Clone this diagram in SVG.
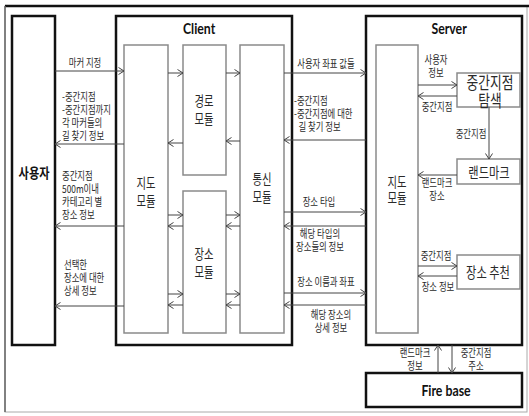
<svg xmlns="http://www.w3.org/2000/svg" width="529" height="416" viewBox="0 0 529 416">
<defs>
<marker id="ah" markerUnits="userSpaceOnUse" markerWidth="8" markerHeight="9" refX="6" refY="4" orient="auto">
<path d="M0.5,0.5 L6,4 L0.5,7.5" fill="none" stroke="#444" stroke-width="1"/>
</marker>
<style>
text{transform-box:fill-box;transform-origin:center}
.t{font-family:"Noto Sans CJK KR","Noto Sans",sans-serif;font-size:11px;fill:#2a2a2a;dominant-baseline:central;transform:scaleX(.76);transform-origin:left center}
.c{text-anchor:middle;transform-origin:center}
.m{font-family:"Noto Sans CJK KR","Noto Sans",sans-serif;font-size:14px;fill:#2a2a2a;dominant-baseline:central;text-anchor:middle;transform:scaleX(.74)}
.k{font-size:17px;transform:scaleX(.75)}
.b{font-family:Lato,"Noto Sans CJK KR",sans-serif;font-weight:bold;font-size:15px;fill:#111;dominant-baseline:central;text-anchor:middle;transform:scaleX(.82)}
.outer{fill:#fff;stroke:#111;stroke-width:2.5}
.inner{fill:#fff;stroke:#8a8a8a;stroke-width:1.5}
.ln{fill:none;stroke:#444;stroke-width:1;marker-end:url(#ah)}
</style>
</defs>
<rect x="5" y="6" width="522" height="406" fill="#fff" stroke="#aaa" stroke-width="1"/>
<line x1="5" y1="6" x2="529" y2="6" stroke="#111" stroke-width="2.5"/>
<line x1="5" y1="6" x2="5" y2="412" stroke="#666" stroke-width="1.5"/>

<g id="user">
<rect class="outer" x="12" y="16" width="43" height="329"/>
<text class="b" x="34" y="172" style="font-family:'Noto Sans CJK KR',sans-serif;font-size:14px;transform:scaleX(.8)">사용자</text>
</g>

<g id="client">
<rect class="outer" x="116" y="16" width="176" height="329"/>
<text class="b" x="199" y="28">Client</text>
</g>
<g id="client-map">
<rect class="inner" x="124" y="45" width="44" height="288"/>
<text class="m"><tspan x="146" y="182">지도</tspan><tspan x="146" y="200">모듈</tspan></text>
</g>
<g id="route">
<rect class="inner" x="183" y="45" width="43" height="130"/>
<text class="m"><tspan x="204" y="100">경로</tspan><tspan x="204" y="118">모듈</tspan></text>
</g>
<g id="place">
<rect class="inner" x="183" y="191" width="43" height="142"/>
<text class="m"><tspan x="204" y="253">장소</tspan><tspan x="204" y="271">모듈</tspan></text>
</g>
<g id="comm">
<rect class="inner" x="240" y="45" width="44" height="288"/>
<text class="m"><tspan x="262" y="178">통신</tspan><tspan x="262" y="196">모듈</tspan></text>
</g>

<g id="server">
<rect class="outer" x="366" y="16" width="156" height="329"/>
<text class="b" x="449" y="28">Server</text>
</g>
<g id="server-map">
<rect class="inner" x="376" y="45" width="42" height="288"/>
<text class="m"><tspan x="397" y="181">지도</tspan><tspan x="397" y="197">모듈</tspan></text>
</g>
<g id="midpoint">
<rect class="inner" x="457" y="73" width="63" height="34"/>
<text class="m k"><tspan x="490" y="81">중간지점</tspan><tspan x="490" y="99">탐색</tspan></text>
</g>
<g id="landmark">
<rect class="inner" x="457" y="159" width="63" height="25"/>
<text class="m k" x="489" y="172" style="font-size:15px">랜드마크</text>
</g>
<g id="recommend">
<rect class="inner" x="457" y="255" width="63" height="34"/>
<text class="m k" x="488" y="272" style="font-size:15px">장소 추천</text>
</g>
<g id="firebase">
<rect class="outer" x="366" y="373" width="156" height="34"/>
<text class="b" x="446" y="390">Fire base</text>
</g>

<g id="connectors">
<line class="ln" x1="55" y1="71" x2="124" y2="71"/>
<line class="ln" x1="124" y1="144" x2="55" y2="144"/>
<line class="ln" x1="124" y1="226" x2="55" y2="226"/>
<line class="ln" x1="124" y1="306" x2="55" y2="306"/>
<line class="ln" x1="168" y1="73" x2="183" y2="73"/>
<line class="ln" x1="183" y1="143" x2="168" y2="143"/>
<line class="ln" x1="226" y1="73" x2="240" y2="73"/>
<line class="ln" x1="240" y1="141" x2="226" y2="141"/>
<line class="ln" x1="168" y1="215" x2="183" y2="215"/>
<line class="ln" x1="183" y1="226" x2="168" y2="226"/>
<line class="ln" x1="168" y1="294" x2="183" y2="294"/>
<line class="ln" x1="183" y1="305" x2="168" y2="305"/>
<line class="ln" x1="226" y1="215" x2="240" y2="215"/>
<line class="ln" x1="240" y1="226" x2="226" y2="226"/>
<line class="ln" x1="226" y1="294" x2="240" y2="294"/>
<line class="ln" x1="240" y1="305" x2="226" y2="305"/>
<line class="ln" x1="284" y1="73" x2="366" y2="73"/>
<line class="ln" x1="366" y1="140" x2="284" y2="140"/>
<line class="ln" x1="284" y1="212" x2="366" y2="212"/>
<line class="ln" x1="366" y1="226" x2="284" y2="226"/>
<line class="ln" x1="284" y1="293" x2="366" y2="293"/>
<line class="ln" x1="366" y1="305" x2="284" y2="305"/>
<line class="ln" x1="418" y1="85" x2="457" y2="85"/>
<line class="ln" x1="457" y1="96" x2="418" y2="96"/>
<line class="ln" x1="489" y1="107" x2="489" y2="159"/>
<line class="ln" x1="457" y1="175" x2="418" y2="175"/>
<line class="ln" x1="418" y1="266" x2="457" y2="266"/>
<line class="ln" x1="457" y1="276" x2="418" y2="276"/>
<line class="ln" x1="438" y1="373" x2="438" y2="345"/>
<line class="ln" x1="452" y1="345" x2="452" y2="373"/>
</g>

<g id="labels">
<text class="t c" x="85" y="62">마커 지정</text>
<text class="t"><tspan x="62" y="97">-중간지점</tspan><tspan x="62" y="110">-중간지점까지</tspan><tspan x="62" y="123">각 마커들의</tspan><tspan x="62" y="136">길 찾기 정보</tspan></text>
<text class="t"><tspan x="62" y="175">중간지점</tspan><tspan x="62" y="188">500m이내</tspan><tspan x="62" y="201">카테고리 별</tspan><tspan x="62" y="214">장소 정보</tspan></text>
<text class="t"><tspan x="64" y="264">선택한</tspan><tspan x="64" y="277">장소에 대한</tspan><tspan x="64" y="291">상세 정보</tspan></text>

<text class="t c" x="326" y="64">사용자 좌표 값들</text>
<text class="t"><tspan x="294" y="100">-중간지점</tspan><tspan x="294" y="113">-중간지점에 대한</tspan><tspan x="300" y="127">길 찾기 정보</tspan></text>
<text class="t c" x="319" y="201">장소 타입</text>
<text class="t c"><tspan x="320" y="234">해당 타입의</tspan><tspan x="320" y="247">장소들의 정보</tspan></text>
<text class="t c" x="326" y="282">장소 이름과 좌표</text>
<text class="t c"><tspan x="331" y="315">해당 장소의</tspan><tspan x="331" y="328">상세 정보</tspan></text>

<text class="t c"><tspan x="436" y="60">사용자</tspan><tspan x="436" y="73">정보</tspan></text>
<text class="t c" x="437" y="106">중간지점</text>
<text class="t c" x="471" y="134">중간지점</text>
<text class="t c"><tspan x="437" y="183">랜드마크</tspan><tspan x="437" y="195">장소</tspan></text>
<text class="t c" x="436" y="256">중간지점</text>
<text class="t c" x="438" y="287">장소 정보</text>

<text class="t c"><tspan x="415" y="352">랜드마크</tspan><tspan x="415" y="366">정보</tspan></text>
<text class="t c"><tspan x="476" y="352">중간지점</tspan><tspan x="476" y="366">주소</tspan></text>
</g>
</svg>
